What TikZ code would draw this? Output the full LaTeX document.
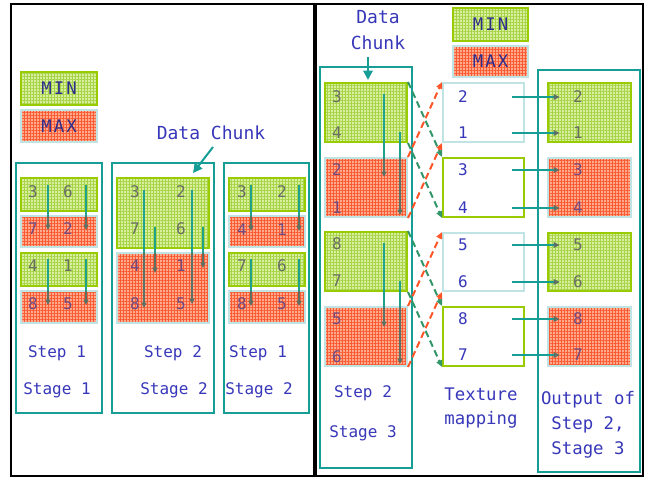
\documentclass[tikz,border=0pt]{standalone}
\usepackage{fontspec}
\usetikzlibrary{arrows.meta,fit,patterns.meta}
\newfontfamily\monofont{DejaVu Sans Mono}
\newfontfamily\legendfont[LetterSpace=12]{DejaVu Sans Mono}

\definecolor{tealbox}{RGB}{22,158,150}
\definecolor{flowtop}{RGB}{30,162,140}
\definecolor{flowgray}{RGB}{92,112,100}
\definecolor{limeline}{RGB}{153,204,0}
\definecolor{limefill}{RGB}{218,238,160}
\definecolor{limegrid}{RGB}{165,212,70}
\definecolor{cyanline}{RGB}{192,228,228}
\definecolor{salmonfill}{RGB}{255,170,140}
\definecolor{salmongrid}{RGB}{250,90,50}
\definecolor{labelblue}{RGB}{55,55,185}
\definecolor{legendblue}{RGB}{45,45,140}
\definecolor{numgray}{RGB}{105,110,100}
\definecolor{numpurple}{RGB}{112,76,130}
\definecolor{dashgreen}{RGB}{50,150,105}
\definecolor{dashred}{RGB}{255,85,40}

\tikzset{every picture/.style={line width=0.75pt}}
\tikzset{
  minblk/.style={draw=limeline, line width=1.5pt, inner sep=0pt, preaction={fill=limefill},
    pattern={Hatch[angle=0,distance=2.25pt,line width=0.35pt]}, pattern color=limegrid},
  maxblk/.style={draw=cyanline, line width=1.5pt, inner sep=0pt, preaction={fill=salmonfill},
    pattern={Hatch[angle=0,distance=2.25pt,line width=0.35pt]}, pattern color=salmongrid},
  texbox/.style={draw=#1, line width=1.5pt, inner sep=0pt, fill=white},
  colbox/.style={draw=tealbox, line width=1.5pt},
  frame/.style={draw=black, line width=2pt},
  numg/.style={inner sep=0.75pt, text=numgray, font={\monofont\fontsize{12pt}{14pt}\selectfont}},
  numr/.style={inner sep=0.75pt, text=numpurple, font={\monofont\fontsize{12pt}{14pt}\selectfont}},
  numb/.style={inner sep=0.75pt, text=labelblue, font={\monofont\fontsize{12pt}{14pt}\selectfont}},
  steptxt/.style={inner sep=0.75pt, text=labelblue, font={\monofont\fontsize{12pt}{14pt}\selectfont}},
  sidetxt/.style={inner sep=0.75pt, text=labelblue, font={\monofont\fontsize{13pt}{15pt}\selectfont}},
  chunktxt/.style={inner sep=0.75pt, text=labelblue, align=center, font={\monofont\fontsize{13.5pt}{19.5pt}\selectfont}},
  legtxt/.style={inner sep=0.75pt, text=legendblue, font={\legendfont\fontsize{13pt}{15pt}\selectfont}},
  chunkarrow/.style={draw=tealbox, line width=1.5pt, -{Triangle[length=7pt,width=7pt]}},
  flowline/.style={draw=flowtop, line width=1.2pt},
  flowtip/.style={draw=flowgray, line width=1.2pt, -{Triangle[length=4pt,width=3.5pt]}},
  flowh/.style={draw=tealbox, line width=1.5pt, -{Triangle[length=4.5pt,width=4pt,color=flowgray]}},
  swapmin/.style={draw=dashgreen, line width=1.5pt, dash pattern={on 5pt off 3pt}, -{Triangle[length=5pt,width=4.5pt]}},
  swapmax/.style={draw=dashred, line width=1.5pt, dash pattern={on 5pt off 3pt}, -{Triangle[length=5pt,width=4.5pt]}}
}
% vertical flow: name, x, y start, y where the max block begins, y end
\newcommand{\vflow}[5]{%
  \coordinate (#1s) at (#2,#3);
  \coordinate (#1m) at (#2,#4);
  \coordinate (#1e) at (#2,#5);
  \draw[flowline] (#1s) -- (#1m);
  \draw[flowtip] (#1m) -- (#1e);}

\begin{document}
\begin{tikzpicture}[x=0.75pt,y=0.75pt,yscale=-1,xscale=1]
	\useasboundingbox (0,0) rectangle (651,481);

	%Shape: Rectangle [left frame]
	\draw[frame] (11,4) rectangle (314,476);
	%Shape: Rectangle [right frame]
	\draw[frame] (316,4) rectangle (643,476);

	%Legend (left)
	\node[minblk, fit={(21,72) (97,105)}] (lmin) {};
	\node[legtxt] (lmintxt) at (lmin.center) {MIN};
	\node[maxblk, fit={(21,110) (97,142)}] (lmax) {};
	\node[legtxt] (lmaxtxt) at (lmax.center) {MAX};

	% Text Node
	\node[chunktxt] (chunkl) at (211,133) {Data Chunk};
	\coordinate (chunkla) at (213,147);
	\coordinate (chunklb) at (193,173);
	\draw[chunkarrow] (chunkla) -- (chunklb);

	%Shape: Rectangle [columns]
	\draw[colbox] (16,163) rectangle (102,413);
	\draw[colbox] (112,163) rectangle (214,413);
	\draw[colbox] (224,163) rectangle (309,413);

	%Step 1, Stage 1
	\node[minblk, fit={(21,178) (97,211)}] (ag1) {};
	\node[maxblk, fit={(21,216) (97,247)}] (ar1) {};
	\node[minblk, fit={(21,253) (97,286)}] (ag2) {};
	\node[maxblk, fit={(21,291) (97,323)}] (ar2) {};
	\node[numg] (a3) at (33,192) {3};
	\node[numg] (a6) at (68,192) {6};
	\node[numr] (a7) at (33,229) {7};
	\node[numr] (a2) at (68,229) {2};
	\node[numg] (a4) at (33,266) {4};
	\node[numg] (a1) at (68,266) {1};
	\node[numr] (a8) at (33,304) {8};
	\node[numr] (a5) at (68,304) {5};
	\vflow{af1}{48}{185}{216}{230}
	\vflow{af2}{86}{185}{216}{230}
	\vflow{af3}{48}{259}{291}{305}
	\vflow{af4}{86}{259}{291}{305}
	\node[steptxt] (astep) at (57,353) {Step 1};
	\node[steptxt] (astage) at (57,390) {Stage 1};

	%Step 2, Stage 2
	\node[minblk, fit={(117,178) (209,248)}] (bg1) {};
	\node[maxblk, fit={(117,253) (209,323)}] (br1) {};
	\node[numg] (b3) at (135,192) {3};
	\node[numg] (b2) at (181,192) {2};
	\node[numg] (b7) at (135,229) {7};
	\node[numg] (b6) at (181,229) {6};
	\node[numr] (b4) at (135,266) {4};
	\node[numr] (b1) at (181,266) {1};
	\node[numr] (b8) at (135,304) {8};
	\node[numr] (b5) at (181,304) {5};
	\vflow{bf1}{144}{190}{253}{308}
	\vflow{bf2}{155}{227}{253}{273}
	\vflow{bf3}{192}{190}{253}{304}
	\vflow{bf4}{203}{227}{253}{268}
	\node[steptxt] (bstep) at (173,353) {Step 2};
	\node[steptxt] (bstage) at (174,390) {Stage 2};

	%Step 1, Stage 2
	\node[minblk, fit={(229,178) (305,211)}] (cg1) {};
	\node[maxblk, fit={(229,216) (305,247)}] (cr1) {};
	\node[minblk, fit={(229,253) (305,286)}] (cg2) {};
	\node[maxblk, fit={(229,291) (305,323)}] (cr2) {};
	\node[numg] (c3) at (242,192) {3};
	\node[numg] (c2) at (282,192) {2};
	\node[numr] (c4) at (242,230) {4};
	\node[numr] (c1) at (282,230) {1};
	\node[numg] (c7) at (242,266) {7};
	\node[numg] (c6) at (282,266) {6};
	\node[numr] (c8) at (242,304) {8};
	\node[numr] (c5) at (282,304) {5};
	\vflow{cf1}{251}{185}{216}{231}
	\vflow{cf2}{299}{185}{216}{231}
	\vflow{cf3}{251}{259}{291}{306}
	\vflow{cf4}{299}{259}{291}{306}
	\node[steptxt] (cstep) at (258,353) {Step 1};
	\node[steptxt] (cstage) at (259,390) {Stage 2};

	%Legend (right)
	\node[minblk, fit={(453,8) (528,41)}] (rmin) {};
	\node[legtxt] (rmintxt) at (rmin.center) {MIN};
	\node[maxblk, fit={(453,46) (528,77)}] (rmax) {};
	\node[legtxt] (rmaxtxt) at (rmax.center) {MAX};

	% Text Node
	\node[chunktxt] (chunkr) at (378,30) {Data\\Chunk};
	\coordinate (chunkra) at (368,57);
	\coordinate (chunkrb) at (368,80);
	\draw[chunkarrow] (chunkra) -- (chunkrb);

	%Shape: Rectangle [columns]
	\draw[colbox] (320,67) rectangle (412,468);
	\draw[colbox] (538,70) rectangle (640,472);

	%Step 2, Stage 3
	\node[minblk, fit={(325,83) (407,142)}] (dg1) {};
	\node[maxblk, fit={(325,158) (407,217)}] (dr1) {};
	\node[minblk, fit={(325,232) (407,291)}] (dg2) {};
	\node[maxblk, fit={(325,307) (407,366)}] (dr2) {};
	\node[numg] (d3) at (337,97) {3};
	\node[numg] (d4) at (337,133) {4};
	\node[numr] (d2) at (337,170) {2};
	\node[numr] (d1) at (337,208) {1};
	\node[numg] (d8) at (337,244) {8};
	\node[numg] (d7) at (337,281) {7};
	\node[numr] (d5) at (337,319) {5};
	\node[numr] (d6) at (337,357) {6};
	\vflow{df1}{384}{94}{158}{177}
	\vflow{df2}{400}{132}{158}{215}
	\vflow{df3}{384}{243}{307}{327}
	\vflow{df4}{400}{281}{307}{364}
	\node[steptxt] (dstep) at (363,393) {Step 2};
	\node[steptxt] (dstage) at (363,433) {Stage 3};

	%Texture mapping
	\node[texbox=cyanline, fit={(443,83) (524,142)}] (ta) {};
	\node[texbox=limeline, fit={(443,158) (524,217)}] (tb) {};
	\node[texbox=cyanline, fit={(443,233) (524,291)}] (tc) {};
	\node[texbox=limeline, fit={(443,307) (524,366)}] (td) {};
	\node[numb] (t2) at (463,97) {2};
	\node[numb] (t1) at (463,133) {1};
	\node[numb] (t3) at (463,170) {3};
	\node[numb] (t4) at (463,208) {4};
	\node[numb] (t5) at (463,245) {5};
	\node[numb] (t6) at (463,282) {6};
	\node[numb] (t8) at (463,319) {8};
	\node[numb] (t7) at (463,355) {7};
	\node[sidetxt] (ttex) at (481,394) {Texture};
	\node[sidetxt] (tmap) at (481,420) {mapping};

	%Dashed swaps
	\draw[swapmin] (dg1.north east) -- (tb.north west);
	\draw[swapmin] (dg1.south east) -- (tb.south west);
	\draw[swapmax] (dr1.north east) -- (ta.north west);
	\draw[swapmax] (dr1.south east) -- (ta.south west);
	\draw[swapmin] (dg2.north east) -- (td.north west);
	\draw[swapmin] (dg2.south east) -- (td.south west);
	\draw[swapmax] (dr2.north east) -- (tc.north west);
	\draw[swapmax] (dr2.south east) -- (tc.south west);

	%Output of Step 2, Stage 3
	\node[minblk, fit={(548,83) (631,142)}] (og1) {};
	\node[maxblk, fit={(548,158) (631,217)}] (or1) {};
	\node[minblk, fit={(548,233) (631,291)}] (og2) {};
	\node[maxblk, fit={(548,307) (631,366)}] (or2) {};
	\node[numg] (o2) at (578,97) {2};
	\node[numg] (o1) at (578,133) {1};
	\node[numr] (o3) at (578,170) {3};
	\node[numr] (o4) at (578,208) {4};
	\node[numg] (o5) at (578,245) {5};
	\node[numg] (o6) at (578,282) {6};
	\node[numr] (o8) at (578,319) {8};
	\node[numr] (o7) at (578,355) {7};
	\draw[flowh] ([xshift=32pt]t2.east) -- ([xshift=-9pt]o2.west);
	\draw[flowh] ([xshift=32pt]t1.east) -- ([xshift=-9pt]o1.west);
	\draw[flowh] ([xshift=32pt]t3.east) -- ([xshift=-9pt]o3.west);
	\draw[flowh] ([xshift=32pt]t4.east) -- ([xshift=-9pt]o4.west);
	\draw[flowh] ([xshift=32pt]t5.east) -- ([xshift=-9pt]o5.west);
	\draw[flowh] ([xshift=32pt]t6.east) -- ([xshift=-9pt]o6.west);
	\draw[flowh] ([xshift=32pt]t8.east) -- ([xshift=-9pt]o8.west);
	\draw[flowh] ([xshift=32pt]t7.east) -- ([xshift=-9pt]o7.west);
	\node[sidetxt] (oout) at (588,400) {Output of};
	\node[sidetxt] (ostep) at (588,425) {Step 2,};
	\node[sidetxt] (ostage) at (588,450) {Stage 3};

\end{tikzpicture}
\end{document}
